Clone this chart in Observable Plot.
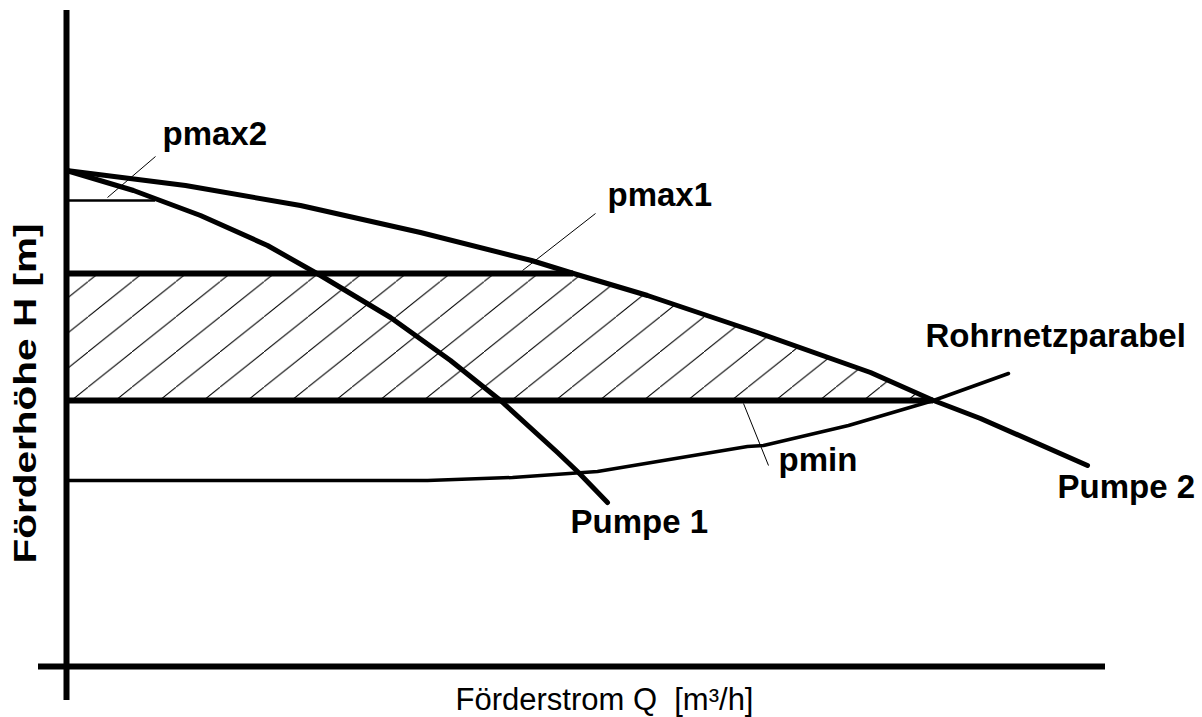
<!DOCTYPE html>
<html>
<head>
<meta charset="utf-8">
<script src="https://cdn.jsdelivr.net/npm/d3@7"></script>
<script src="https://cdn.jsdelivr.net/npm/@observablehq/plot@0.6"></script>
<style>
  html, body { margin: 0; padding: 0; background: #fff; }
  svg { display: block; }
</style>
</head>
<body>
<div id="chart"></div>
<script>
// ---- Data (Q = Förderstrom, H = Förderhöhe, arbitrary units) ----
const pumpe1Q = [0, 6.7, 13.4, 20.1, 25.4, 32.4, 38.4, 43.4, 49.1, 51.2, 54.1];
const pumpe1H = [49.6, 47.6, 45.1, 42.1, 39.1, 34.9, 30.6, 26.6, 21.4, 19.4, 16.4];

const pumpe2Q = [0, 11.9, 23.4, 35.4, 46.5, 50.7, 58.1, 69.1, 80.4, 86.7, 91.4, 102.1];
const pumpe2H = [49.6, 48.1, 46.1, 43.4, 40.6, 39.3, 37.1, 33.4, 29.4, 26.6, 24.8, 20.1];

const rohrQ = [0, 36.1, 44.6, 53.1, 68.1, 69.7, 78.2, 86.7, 94.2];
const rohrH = [18.6, 18.6, 18.9, 19.5, 22.0, 22.1, 24.1, 26.6, 29.3];

// horizontal pressure levels: [H, Q end]
const pmax2 = {H: 46.6, qEnd: 8.9};
const pmax1 = {H: 39.3, qEnd: 50.7};
const pmin  = {H: 26.6, qEnd: 86.7};

// leader lines
const leaderNames = ["pmax2", "pmax1", "pmin"];
const leaderQ1 = [8.9, 52.9, 67.7];
const leaderH1 = [51.0, 45.3, 26.3];
const leaderQ2 = [4.1, 45.6, 70.2];
const leaderH2 = [46.9, 39.6, 20.1];

// labels
const labelText = ["pmax2", "pmax1", "Rohrnetzparabel", "pmin", "Pumpe 1", "Pumpe 2"];
const labelQ = [9.6, 54.1, 85.9, 71.2, 50.4, 99.1];
const labelH = [52.2, 46.1, 32.0, 19.6, 13.4, 16.9];

// axes extents
const qAxisExtent = [-2.8, 103.9];
const hAxisExtent = [-3.4, 65.6];
const xTitle = "Förderstrom Q\u00a0\u00a0[m³/h]";
const yTitle = "Förderhöhe H [m]";

// ---- Build tables ----
const zip = (qs, hs) => qs.map((q, i) => ({Q: q, H: hs[i]}));
const pumpe1 = zip(pumpe1Q, pumpe1H);
const pumpe2 = zip(pumpe2Q, pumpe2H);
const rohr = zip(rohrQ, rohrH);
const hatch = [{Q: 0, H: pmax1.H}, ...pumpe2.filter(d => d.H <= pmax1.H && d.H >= pmin.H)];
const leaders = leaderNames.map((n, i) => ({n, q1: leaderQ1[i], h1: leaderH1[i], q2: leaderQ2[i], h2: leaderH2[i]}));
const labels = labelText.map((t, i) => ({t, Q: labelQ[i], H: labelH[i]}));

const font = "'Liberation Sans', Arial, Helvetica, sans-serif";

const svg = Plot.plot({
  width: 1202,
  height: 717,
  margin: 0,
  x: {domain: [0, 100], range: [66, 1066], axis: null},
  y: {domain: [0, 50], range: [666, 166], axis: null},
  style: {background: "#fff", fontFamily: font},
  marks: [
    Plot.areaY(hatch, {x: "Q", y1: pmin.H, y2: "H", fill: "url(#hatch)", stroke: "none"}),
    // pressure levels
    Plot.ruleY([pmax2], {y: "H", x1: 0, x2: "qEnd", stroke: "#000", strokeWidth: 2.5}),
    Plot.ruleY([pmax1], {y: "H", x1: 0, x2: "qEnd", stroke: "#000", strokeWidth: 6}),
    Plot.ruleY([pmin], {y: "H", x1: 0, x2: "qEnd", stroke: "#000", strokeWidth: 6}),
    // curves
    Plot.line(rohr, {x: "Q", y: "H", stroke: "#000", strokeWidth: 3.5, strokeLinejoin: "round"}),
    Plot.line(pumpe2, {x: "Q", y: "H", stroke: "#000", strokeWidth: 5, strokeLinejoin: "round"}),
    Plot.line(pumpe1, {x: "Q", y: "H", stroke: "#000", strokeWidth: 5, strokeLinejoin: "round"}),
    // leaders
    Plot.link(leaders, {x1: "q1", y1: "h1", x2: "q2", y2: "h2", stroke: "#000", strokeWidth: 1}),
    // axes
    Plot.ruleX([0], {y1: hAxisExtent[0], y2: hAxisExtent[1], stroke: "#000", strokeWidth: 6}),
    Plot.ruleY([0], {x1: qAxisExtent[0], x2: qAxisExtent[1], stroke: "#000", strokeWidth: 6}),
    // labels
    Plot.text(labels, {x: "Q", y: "H", text: "t", textAnchor: "start", lineAnchor: "bottom",
      fontSize: 33, fontWeight: "bold", fill: "#000", fontFamily: font}),
    Plot.text([xTitle], {x: 38.9, y: -4.3, text: d => d, textAnchor: "start", lineAnchor: "bottom",
      fontSize: 31, fill: "#000", fontFamily: font}),
    Plot.text([yTitle], {x: -3.1, y: 27.3, text: d => d, rotate: -90, textAnchor: "middle", lineAnchor: "bottom",
      fontSize: 31, fontWeight: "bold", fill: "#000", fontFamily: font, className: "ylab"})
  ]
});

// hatch pattern
const ns = "http://www.w3.org/2000/svg";
const defs = document.createElementNS(ns, "defs");
const pat = document.createElementNS(ns, "pattern");
const W = 44, H = 35.2;
pat.setAttribute("id", "hatch");
pat.setAttribute("patternUnits", "userSpaceOnUse");
pat.setAttribute("width", W);
pat.setAttribute("height", H);
const ln = document.createElementNS(ns, "line");
ln.setAttribute("x1", -W * 0.1); ln.setAttribute("y1", H * 1.1);
ln.setAttribute("x2", W * 1.1); ln.setAttribute("y2", -H * 0.1);
ln.setAttribute("stroke", "#000");
ln.setAttribute("stroke-width", 1);
pat.appendChild(ln);
defs.appendChild(pat);
svg.insertBefore(defs, svg.firstChild);

d3.select(svg).selectAll(".ylab text")
  .attr("textLength", 340)
  .attr("lengthAdjust", "spacingAndGlyphs");

document.getElementById("chart").appendChild(svg);
</script>
</body>
</html>
